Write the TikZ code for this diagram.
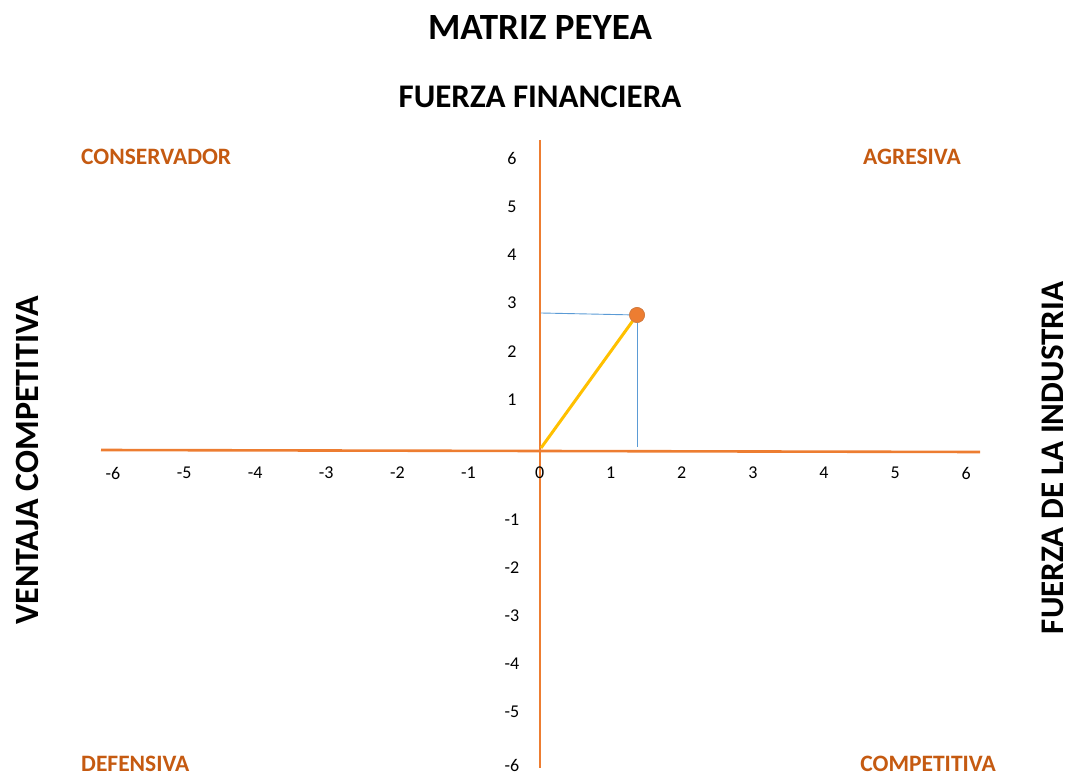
\documentclass[tikz,border=0pt]{standalone}
\usepackage{fontspec}
\setmainfont{Carlito}
\definecolor{axisor}{HTML}{ED7D31}
\definecolor{lblor}{HTML}{C55A11}
\definecolor{guideblue}{HTML}{5B9BD5}
\definecolor{lineyel}{HTML}{FFC000}
\begin{document}
\begin{tikzpicture}[x=1pt,y=-1pt,
  axis/.style={draw=axisor,line width=2.6pt},
  tick/.style={font=\fontsize{18}{20}\selectfont,text=black,anchor=center,inner sep=0pt},
  corner/.style={font=\fontsize{23.5}{26}\selectfont\bfseries,text=lblor,inner sep=0pt},
  title/.style={font=\bfseries,text=black,inner sep=0pt}]
\useasboundingbox (0,0) rectangle (1069,773);
% titles
\node[title,font=\fontsize{37}{40}\selectfont\bfseries] (t) at (540,28) {MATRIZ PEYEA};
\node[title,font=\fontsize{33}{36}\selectfont\bfseries] (ff) at (540,97) {FUERZA FINANCIERA};
\node[title,font=\fontsize{34}{36}\selectfont\bfseries,rotate=90] (vc) at (27,460) {VENTAJA COMPETITIVA};
\node[title,font=\fontsize{33}{36}\selectfont\bfseries,rotate=90] (fi) at (1053,458) {FUERZA DE LA INDUSTRIA};
% corners
\node[corner,anchor=west] (cons) at (81,157) {CONSERVADOR};
\node[corner,anchor=east] (agr) at (961,157) {AGRESIVA};
\node[corner,anchor=west] (def) at (81,764) {DEFENSIVA};
\node[corner,anchor=east] (comp) at (996,764) {COMPETITIVA};
% axes
\coordinate (xl) at (101,450);
\coordinate (xr) at (980,452);
\coordinate (yt) at (540,140);
\coordinate (yb) at (540,768);
\draw[axis] (xl) -- (xr);
\draw[axis] (yt) -- (yb);
% x ticks
\foreach \v [count=\i from 0] in {-6,-5,-4,-3,-2,-1,0,1,2,3,4,5,6}
  \node[tick] (xt\i) at (113+\i*71.1,473) {\v};
% y ticks
\foreach \v/\yy in {6/158,5/207,4/255,3/303,2/352,1/400,-1/520,-2/568,-3/616,-4/664,-5/712,-6/765}
  \node[tick] (yt\v) at (512,\yy) {\v};
% point
\coordinate (o) at (541,448);
\coordinate (hy) at (541,313);
\coordinate (vx) at (637,447);
\node[circle,fill=axisor,draw=lblor!80,line width=0.6pt,minimum size=15pt,inner sep=0pt] (p) at (637,315) {};
\draw[guideblue,line width=0.9pt] (hy) -- (p.center);
\draw[guideblue,line width=0.9pt] (p.center) -- (vx);
\draw[lineyel,line width=3pt] (o) -- (p.center);
\node[circle,fill=axisor,draw=lblor!80,line width=0.6pt,minimum size=15pt,inner sep=0pt] at (p) {};
\end{tikzpicture}
\end{document}
